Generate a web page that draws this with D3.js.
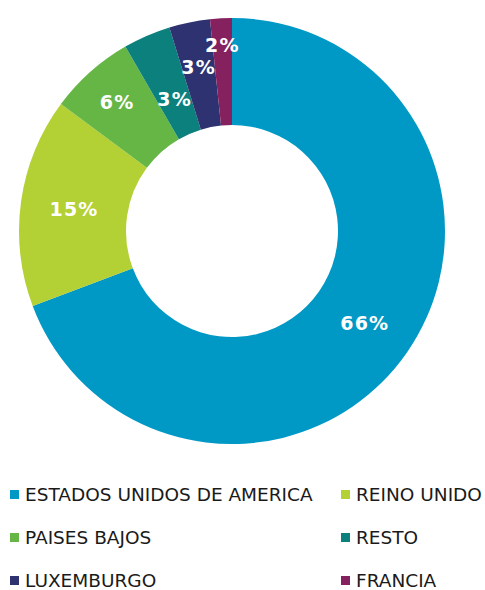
<!DOCTYPE html>
<html>
<head>
<meta charset="utf-8">
<script src="https://cdn.jsdelivr.net/npm/d3@7"></script>
<style>
  body { margin: 0; background: #fff; }
  svg { display: block; }
</style>
</head>
<body>
<svg id="chart" width="485" height="590"></svg>
<script>
// data
var countries = ['ESTADOS UNIDOS DE AMERICA', 'REINO UNIDO', 'PAISES BAJOS', 'RESTO', 'LUXEMBURGO', 'FRANCIA'],
    shares = [69.3, 15.9, 6.5, 3.6, 3.1, 1.65],
    labels = ['66%', '15%', '6%', '3%', '3%', '2%'],
    colors = ['#0099c5', '#b3d035', '#66b646', '#0b807d', '#2f3270', '#86215f'];

// label radius nudges (like the spreadsheet moved them)
var labelNudge = [2, 0, 13, -16, 8, 27];

var svg = d3.select('#chart'),
    cx = 232, cy = 231,
    outerR = 213, innerR = 106;

var pie = d3.pie().sort(null).value(function(d) { return d; }),
    arc = d3.arc().innerRadius(innerR).outerRadius(outerR),
    arcs = pie(shares);

var g = svg.append('g').attr('transform', 'translate(' + cx + ',' + cy + ')');

g.selectAll('.slice').data(arcs).enter()
  .append('path')
    .classed('slice', true)
    .attr('d', arc)
    .attr('fill', function(d, i) { return colors[i]; });

g.selectAll('.labels').data(arcs).enter()
  .append('text')
    .classed('labels', true)
    .attr('transform', function(d, i) {
        var r = (innerR + outerR) / 2 + labelNudge[i],
            a = (d.startAngle + d.endAngle) / 2;
        return 'translate(' + (Math.sin(a) * r) + ',' + (-Math.cos(a) * r) + ')';
    })
    .attr('text-anchor', 'middle')
    .attr('dy', '0.36em')
    .attr('fill', '#fff')
    .style('font-family', 'Verdana, "DejaVu Sans", sans-serif')
    .style('font-weight', 'bold')
    .style('font-size', '19px')
    .style('letter-spacing', '1.2px')
    .text(function(d, i) { return labels[i]; });

// legend, two columns
var legendX = d3.scaleOrdinal().domain([0, 1]).range([10, 341]),
    legendY = d3.scaleLinear().domain([0, 2]).range([494, 580]);

var items = svg.selectAll('.legend').data(countries).enter()
  .append('g')
    .classed('legend', true)
    .attr('transform', function(d, i) {
        return 'translate(' + legendX(i % 2) + ',' + legendY(Math.floor(i / 2)) + ')';
    });

items.append('rect')
    .attr('x', 0)
    .attr('y', -4)
    .attr('width', 9)
    .attr('height', 9)
    .attr('fill', function(d, i) { return colors[i]; });

items.append('text')
    .attr('x', 15)
    .attr('y', 0)
    .attr('dy', '0.36em')
    .attr('fill', '#1a1a1a')
    .style('font-family', 'Verdana, "DejaVu Sans", sans-serif')
    .style('font-size', '18.5px')
    .text(function(d) { return d; });
</script>
</body>
</html>
